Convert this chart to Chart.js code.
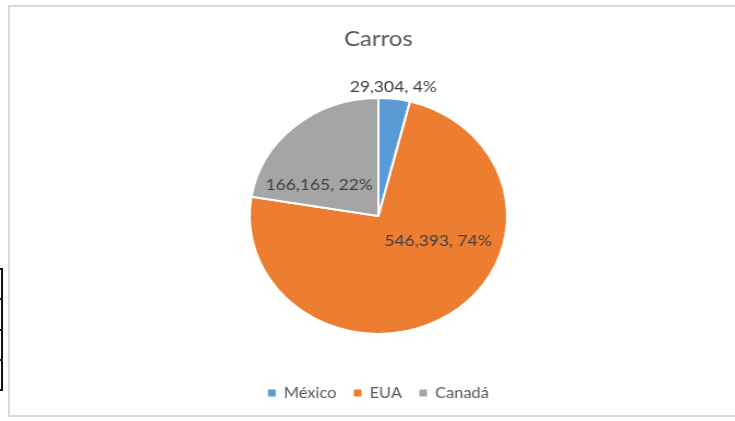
<!DOCTYPE html>
<html>
<head>
<meta charset="utf-8">
<script src="https://cdn.jsdelivr.net/npm/chart.js@4/dist/chart.umd.min.js"></script>
<style>
  html, body { margin: 0; padding: 0; background: #ffffff; }
  body { width: 735px; height: 421px; position: relative; overflow: hidden; }
  #frame { position: absolute; left: 8px; top: 5px; width: 800px; height: 412px; border: 2px solid #dadada; box-sizing: border-box; }
  #stretch { position: absolute; left: 0; top: 0; width: 674px; height: 421px; transform: scaleX(1.0905); transform-origin: 0 0; }
  .tv { position: absolute; left: 1px; top: 268px; width: 2px; height: 123px; background: #111; }
  .th { position: absolute; left: 0; width: 3px; height: 2px; background: #111; }
</style>
</head>
<body>
<div class="tv"></div>
<div class="th" style="top:268px"></div>
<div class="th" style="top:298px"></div>
<div class="th" style="top:329px"></div>
<div class="th" style="top:359px"></div>
<div class="th" style="top:389px"></div>
<div id="frame"></div>
<div id="stretch"><canvas id="c"></canvas></div>
<script>
// ---- data ----
const chartTitle = 'Carros';
const categories = ['México', 'EUA', 'Canadá'];
const values = [29304, 546393, 166165];
const colors = ['#5B9BD5', '#ED7D31', '#A5A5A5'];

// label placement (angle in degrees clockwise from top, distance as fraction of radius)
const labelAngles = [6, 114.5, 299.6];
const labelDist = [1.10, 0.51, 0.53];

const FONT = 'Lato, "Open Sans", sans-serif';

const labelPlugin = {
  id: 'pieLabels',
  afterDatasetsDraw(chart) {
    const ctx = chart.ctx;
    const meta = chart.getDatasetMeta(0);
    const data = chart.data.datasets[0].data;
    const total = data.reduce((a, b) => a + b, 0);
    ctx.save();
    ctx.font = '16px ' + FONT;
    ctx.fillStyle = '#404040';
    ctx.textAlign = 'center';
    ctx.textBaseline = 'middle';
    meta.data.forEach((arc, i) => {
      const r = arc.outerRadius * labelDist[i];
      const a = labelAngles[i] * Math.PI / 180;
      const x = arc.x + r * Math.sin(a);
      const y = arc.y - r * Math.cos(a);
      const pct = Math.round(data[i] / total * 100);
      const txt = data[i].toLocaleString('en-US') + ', ' + pct + '%';
      ctx.fillText(txt, x, y);
    });
    ctx.restore();
  }
};

new Chart(document.getElementById('c'), {
  type: 'pie',
  data: {
    labels: categories,
    datasets: [{
      data: values,
      backgroundColor: colors,
      borderColor: '#ffffff',
      borderWidth: 2,
      radius: 118
    }]
  },
  options: {
    responsive: true,
    maintainAspectRatio: false,
    animation: false,
    layout: { padding: { top: 6, bottom: 10.5, left: 20, right: 0 } },
    plugins: {
      title: {
        display: true,
        text: chartTitle,
        color: '#595959',
        font: { family: FONT, size: 22, weight: 'normal', lineHeight: 1.2 },
        padding: { top: 20, bottom: 10 }
      },
      legend: {
        display: true,
        position: 'bottom',
        labels: {
          color: '#595959',
          font: { family: FONT, size: 15 },
          boxWidth: 7,
          boxHeight: 7,
          padding: 16,
          generateLabels(chart) {
            const items = Chart.overrides.pie.plugins.legend.labels.generateLabels(chart);
            items.forEach(it => { it.lineWidth = 0; it.strokeStyle = it.fillStyle; });
            return items;
          }
        }
      },
      tooltip: { enabled: false }
    }
  },
  plugins: [labelPlugin]
});
</script>
</body>
</html>
